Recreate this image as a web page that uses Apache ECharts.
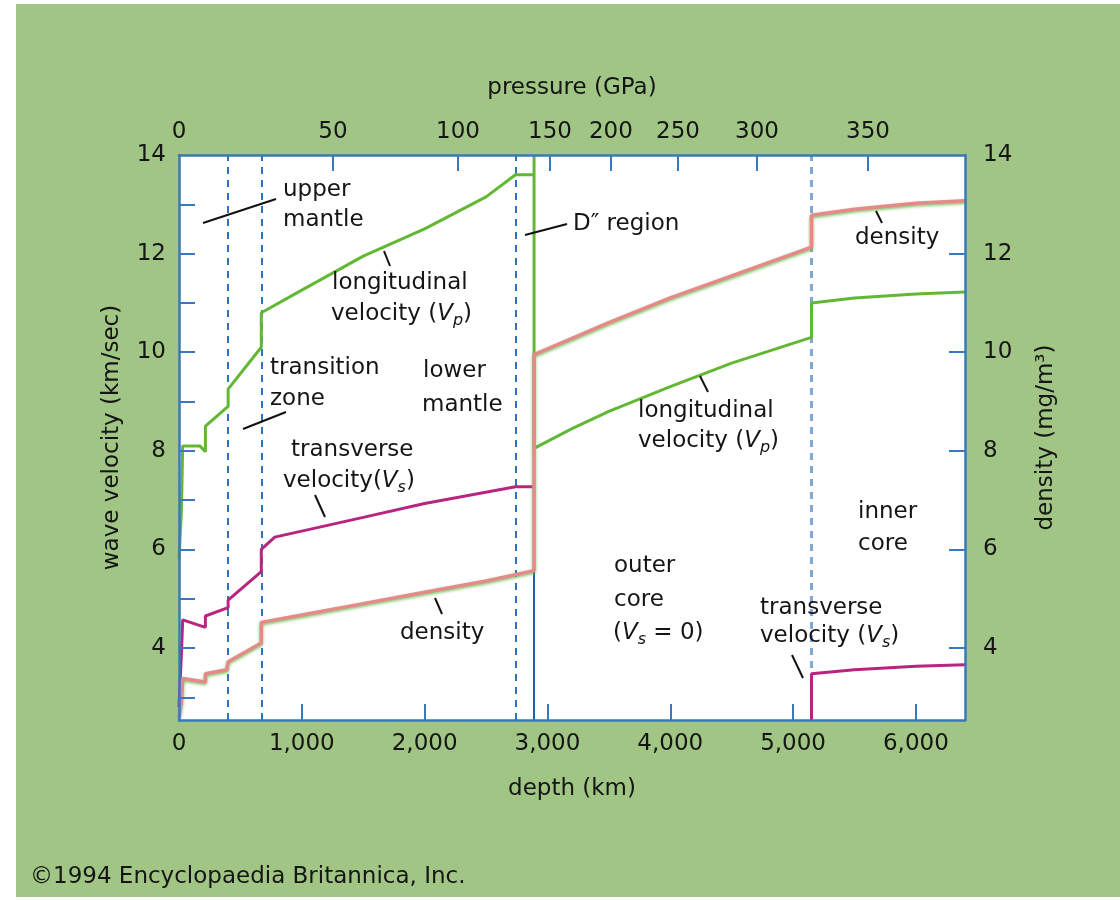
<!DOCTYPE html>
<html><head><meta charset="utf-8">
<script src="https://cdn.jsdelivr.net/npm/echarts@6/dist/echarts.min.js"></script>
<style>html,body{margin:0;padding:0;background:#fff}#c{width:1120px;height:900px}</style>
</head><body><div id="c"></div>
<script>
// ---- data ----
const depthTicks = [0, 1000, 2000, 3000, 4000, 5000, 6000];
const pressureLabels = [0, 50, 100, 150, 200, 250, 300, 350];
const pressureDepths = [0, 1254, 2272, 3021, 3517, 4063, 4706, 5610];
const velocityMinorTicks = [3, 4, 5, 6, 7, 8, 9, 10, 11, 12, 13];
const velocityLabels = [4, 6, 8, 10, 12, 14];
const densityTicks = [4, 6, 8, 10, 12];
const densityLabels = [4, 6, 8, 10, 12, 14];
const boundaryDepths = [400, 670, 2740, 5150];
const coreMantleBoundary = 2891;

const vp = [[0,5.8],[20,6.8],[30,8.1],[170,8.1],[215,7.98],[215,8.5],[400,8.9],[400,9.25],[670,10.1],[670,10.8],
  [1000,11.26],[1500,11.95],[2000,12.5],[2500,13.15],[2740,13.6],[2891,13.6],[2891,14],[2891,8.05],
  [3200,8.45],[3500,8.8],[4000,9.3],[4500,9.78],[5150,10.3],[5150,11.0],[5500,11.1],[6000,11.18],[6400,11.22]];
const vsMantle = [[0,2.8],[20,3.9],[30,4.57],[215,4.42],[215,4.65],[400,4.82],[400,4.97],[670,5.55],[670,6.0],
  [780,6.25],[1500,6.65],[2000,6.93],[2740,7.27],[2891,7.27]];
const vsInnerCore = [[5150,2.54],[5150,3.48],[5500,3.56],[6000,3.63],[6400,3.66]];
const density = [[0,2.6],[20,2.9],[30,3.38],[215,3.31],[215,3.48],[390,3.56],[400,3.72],[670,4.1],[670,4.52],
  [1000,4.67],[1500,4.9],[2000,5.13],[2500,5.36],[2891,5.57],[2891,9.95],[3500,10.6],[4000,11.1],[4500,11.55],
  [5150,12.13],[5150,12.78],[5500,12.9],[6000,13.02],[6400,13.07]];

const X_MAX = 6400, Y_MIN = 2.54, Y_MAX = 14;
const FONT = '"DejaVu Sans", sans-serif';
const FS = 23;
const AX = '#3878bb';
const TXT = '#151515';

const chart = echarts.init(document.getElementById('c'), null, {renderer: 'canvas'});

function fmtDepth(v){ return v === 0 ? '0' : Number(v).toLocaleString('en-US'); }

const axisLine = {show: true, onZero: false, lineStyle: {color: AX, width: 2.5}};
const tickStyle = {color: AX, width: 2};
const labelBase = {color: TXT, fontFamily: FONT, fontSize: FS};

function txt(x, y, text) {
  return {type: 'text', x: x, y: y, z: 50,
    style: {text: text, fill: TXT, font: FS + 'px ' + FONT, verticalAlign: 'middle',
      rich: {
        n: {fontSize: FS, fontFamily: FONT, fill: TXT},
        i: {fontSize: FS, fontFamily: FONT, fontStyle: 'italic', fill: TXT},
        s: {fontSize: 16, fontFamily: FONT, fontStyle: 'italic', fill: TXT, padding: [13, 0, 0, 0]}
      }}};
}
function lead(x1, y1, x2, y2) {
  return {type: 'line', z: 50, shape: {x1: x1, y1: y1, x2: x2, y2: y2}, style: {stroke: '#111', lineWidth: 2}};
}

const option = {
  backgroundColor: '#ffffff',
  animation: false,
  grid: {left: 179, right: 155, top: 155, bottom: 180, show: true, backgroundColor: '#ffffff', borderWidth: 0},
  xAxis: [
    {type: 'value', position: 'bottom', min: 0, max: X_MAX, z: 20,
      name: 'depth (km)', nameLocation: 'middle', nameGap: 58,
      nameTextStyle: labelBase,
      axisLine: axisLine, splitLine: {show: false},
      axisTick: {show: true, inside: true, length: 16, lineStyle: tickStyle, customValues: depthTicks.slice(1)},
      axisLabel: Object.assign({customValues: depthTicks, margin: 13, formatter: fmtDepth}, labelBase)},
    {type: 'value', position: 'top', min: 0, max: X_MAX, z: 20,
      name: 'pressure (GPa)', nameLocation: 'middle', nameGap: 55,
      nameTextStyle: labelBase,
      axisLine: axisLine, splitLine: {show: false},
      axisTick: {show: true, inside: true, length: 16, lineStyle: tickStyle, customValues: pressureDepths.slice(1)},
      axisLabel: Object.assign({customValues: pressureDepths, margin: 11,
        formatter: v => String(pressureLabels[pressureDepths.indexOf(v)])}, labelBase)}
  ],
  yAxis: [
    {type: 'value', position: 'left', min: Y_MIN, max: Y_MAX, z: 20,
      name: 'wave velocity (km/sec)', nameLocation: 'middle', nameGap: 55,
      nameTextStyle: labelBase,
      axisLine: axisLine, splitLine: {show: false},
      axisTick: {show: true, inside: true, length: 16, lineStyle: tickStyle, customValues: velocityMinorTicks},
      axisLabel: Object.assign({customValues: velocityLabels, margin: 13}, labelBase)},
    {type: 'value', position: 'right', min: Y_MIN, max: Y_MAX, z: 20,
      name: 'density (mg/m³)', nameLocation: 'middle', nameGap: 70,
      nameTextStyle: labelBase,
      axisLine: axisLine, splitLine: {show: false},
      axisTick: {show: true, inside: true, length: 16, lineStyle: tickStyle, customValues: densityTicks},
      axisLabel: Object.assign({customValues: densityLabels, margin: 18}, labelBase)}
  ],
  series: [
    {name: 'boundaries', type: 'line', data: [], z: 2, silent: true,
      markLine: {symbol: 'none', silent: true, z: 2, label: {show: false},
        data: boundaryDepths.map((d, i) => ({xAxis: d,
          lineStyle: {color: i === 3 ? '#7fa9d4' : '#2f74ba', width: i === 3 ? 3 : 2, type: [7, 6]}}))}},
    {name: 'Vs mantle', type: 'line', data: vsMantle, showSymbol: false, z: 6, clip: true,
      lineStyle: {color: '#b8257f', width: 3},
      markLine: {symbol: 'none', silent: true, z: 3, label: {show: false},
        lineStyle: {color: '#1f5fa8', width: 2, type: 'solid'},
        data: [[{coord: [coreMantleBoundary, Y_MIN]}, {coord: [coreMantleBoundary, 5.57]}]]}},
    {name: 'Vs inner core', type: 'line', data: vsInnerCore, showSymbol: false, z: 6, clip: true,
      lineStyle: {color: '#b8257f', width: 3}},
    {name: 'Vp', type: 'line', data: vp, showSymbol: false, z: 7, clip: true,
      lineStyle: {color: '#62b834', width: 3}},
    {name: 'density', type: 'line', data: density, showSymbol: false, z: 8, clip: true,
      lineStyle: {color: '#e5898a', width: 3.5, shadowColor: 'rgba(100,185,70,0.85)', shadowBlur: 3, shadowOffsetY: 1.5}}
  ],
  graphic: [
    {type: 'rect', z: -100, shape: {x: 16, y: 4, width: 1104, height: 893}, style: {fill: '#a0c584'}},
    txt(283, 190, 'upper'),
    txt(283, 220, 'mantle'),
    lead(203, 223, 276, 199),
    txt(332, 283, 'longitudinal'),
    txt(331, 314, '{n|velocity (}{i|V}{s|p}{n|)}'),
    lead(384, 251, 390, 266),
    txt(270, 368, 'transition'),
    txt(270, 399, 'zone'),
    lead(243, 429, 286, 412),
    txt(423, 371, 'lower'),
    txt(422, 405, 'mantle'),
    txt(291, 450, 'transverse'),
    txt(283, 481, '{n|velocity(}{i|V}{s|s}{n|)}'),
    lead(315, 495, 325, 517),
    txt(400, 633, 'density'),
    lead(435, 598, 442, 614),
    txt(573, 224, 'D″ region'),
    lead(525, 235, 567, 224),
    txt(855, 238, 'density'),
    lead(876, 211, 882, 223),
    txt(638, 411, 'longitudinal'),
    txt(638, 441, '{n|velocity (}{i|V}{s|p}{n|)}'),
    lead(700, 376, 708, 392),
    txt(858, 512, 'inner'),
    txt(858, 544, 'core'),
    txt(614, 566, 'outer'),
    txt(614, 600, 'core'),
    txt(613, 633, '{n|(}{i|V}{s|s}{n| = 0)}'),
    txt(760, 608, 'transverse'),
    txt(760, 636, '{n|velocity (}{i|V}{s|s}{n|)}'),
    lead(792, 655, 803, 678),
    txt(30, 877, '©1994 Encyclopaedia Britannica, Inc.')
  ]
};
chart.setOption(option);
</script>
</body></html>
